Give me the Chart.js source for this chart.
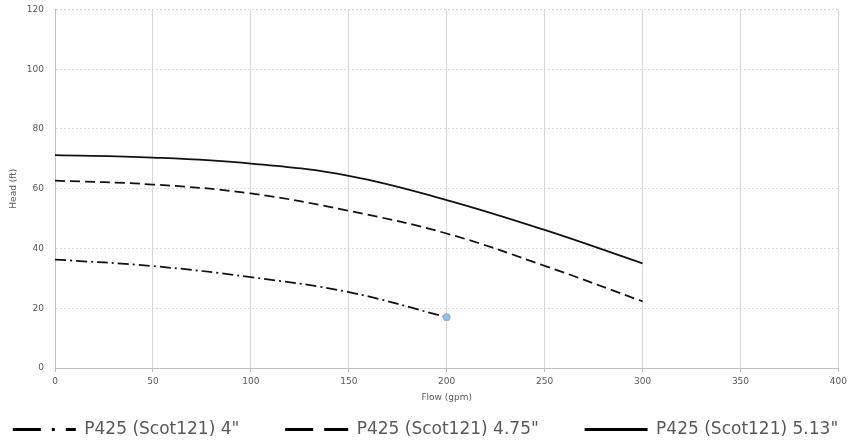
<!DOCTYPE html>
<html>
<head>
<meta charset="utf-8">
<script src="https://cdn.jsdelivr.net/npm/chart.js@4"></script>
<style>
  html, body { margin: 0; padding: 0; background: #fff; }
  #wrap { width: 851px; height: 443px; }
</style>
</head>
<body>
<div id="wrap"><canvas id="curvas"></canvas></div>
<script>
// datos
const flow = [0, 50, 100, 150, 200, 250, 300];
const head4 = [36.3, 34.1, 30.4, 25.4, 17.0];
const head475 = [62.7, 61.4, 58.4, 52.6, 45.0, 34.2, 22.3];
const head513 = [71.2, 70.4, 68.4, 64.3, 56.2, 46.2, 35.0];
const seriesNames = ['P425 (Scot121) 4"', 'P425 (Scot121) 4.75"', 'P425 (Scot121) 5.13"'];

const gris = "#595959";
const rejilla = "#d9d9d9";
const legendDash = [[28, 11, 3, 11], [28, 11], []];
const espacio = "\u00a0".repeat(7);

function puntos(ys) {
    return ys.map((y, i) => ({ x: flow[i], y: y }));
}

const ctx = document.getElementById("curvas").getContext("2d");

new Chart(ctx, {
    type: "line",
    data: {
        datasets: [
            {
                label: seriesNames[0],
                data: puntos(head4),
                borderColor: "#111",
                borderWidth: 1.75,
                borderDash: [11, 4, 2, 4],
                pointRadius: head4.map((v, i) => i === head4.length - 1 ? 3 : 0),
                pointBackgroundColor: "#9dc3e6",
                pointBorderColor: "#8fb4e3",
                tension: 0.4
            },
            {
                label: seriesNames[1],
                data: puntos(head475),
                borderColor: "#111",
                borderWidth: 1.75,
                borderDash: [10, 5],
                pointRadius: 0,
                tension: 0.4
            },
            {
                label: seriesNames[2],
                data: puntos(head513),
                borderColor: "#111",
                borderWidth: 1.75,
                pointRadius: 0,
                tension: 0.4
            }
        ]
    },
    options: {
        responsive: true,
        maintainAspectRatio: false,
        animation: false,
        layout: { padding: { left: 0, right: 0, top: 0, bottom: -5 } },
        plugins: {
            tooltip: { enabled: false },
            legend: {
                position: "bottom",
                labels: {
                    color: gris,
                    font: { family: "DejaVu Sans", size: 17 },
                    usePointStyle: true,
                    pointStyleWidth: 63,
                    padding: 8,
                    generateLabels: chart => chart.data.datasets.map((ds, i) => ({
                        text: ds.label + (i < 2 ? espacio : ""),
                        datasetIndex: i,
                        pointStyle: "line",
                        strokeStyle: "#000",
                        fillStyle: "#000",
                        fontColor: gris,
                        lineWidth: 3,
                        lineDash: legendDash[i],
                        hidden: false
                    }))
                }
            }
        },
        scales: {
            x: {
                type: "linear",
                min: 0,
                max: 400,
                ticks: {
                    stepSize: 50,
                    color: gris,
                    padding: 4,
                    maxRotation: 0,
                    font: { family: "DejaVu Sans", size: 9 }
                },
                grid: {
                    color: rejilla,
                    lineWidth: 1,
                    drawTicks: true,
                    tickLength: 4,
                    tickColor: "#bfbfbf"
                },
                border: { color: "#bfbfbf", width: 1 },
                title: {
                    display: true,
                    text: "Flow (gpm)",
                    color: gris,
                    font: { family: "DejaVu Sans", size: 9 },
                    padding: { top: 4, bottom: 10 }
                },
                afterFit: scale => { scale.height = 45; }
            },
            y: {
                min: 0,
                max: 120,
                ticks: {
                    stepSize: 20,
                    color: gris,
                    padding: 4,
                    font: { family: "DejaVu Sans", size: 9 }
                },
                grid: {
                    color: rejilla,
                    lineWidth: 1,
                    drawTicks: true,
                    tickLength: 7,
                    tickColor: "rgba(0,0,0,0)"
                },
                border: { color: "#bfbfbf", width: 1, dash: [2, 2] },
                title: {
                    display: true,
                    text: "Head (ft)",
                    color: gris,
                    font: { family: "DejaVu Sans", size: 9 },
                    padding: { top: 8, bottom: 0 }
                },
                afterFit: scale => { scale.width = 55; }
            }
        }
    }
});
</script>
</body>
</html>
